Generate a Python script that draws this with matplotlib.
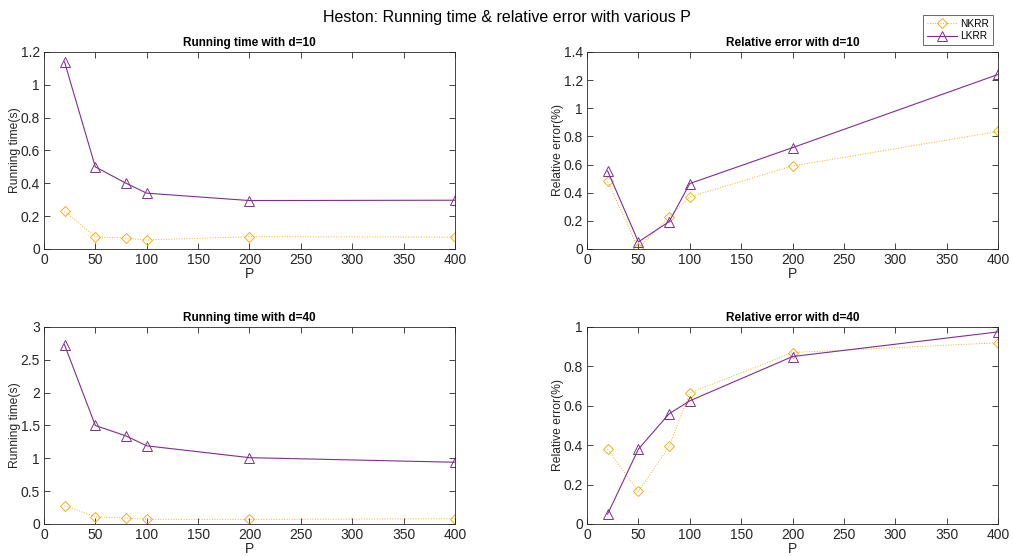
import numpy as np
import matplotlib.pyplot as plt

plt.rcParams['font.family'] = ['Liberation Sans', 'DejaVu Sans']

P = [20, 50, 80, 100, 200, 400]

time10_nkrr = [0.23, 0.075, 0.065, 0.055, 0.075, 0.072]
time10_lkrr = [1.14, 0.50, 0.40, 0.34, 0.295, 0.297]
err10_nkrr = [0.48, 0.005, 0.23, 0.37, 0.59, 0.835]
err10_lkrr = [0.555, 0.05, 0.195, 0.465, 0.72, 1.24]
time40_nkrr = [0.28, 0.11, 0.09, 0.07, 0.07, 0.08]
time40_lkrr = [2.73, 1.50, 1.34, 1.19, 1.01, 0.94]
err40_nkrr = [0.38, 0.165, 0.395, 0.665, 0.87, 0.92]
err40_lkrr = [0.05, 0.38, 0.56, 0.625, 0.85, 0.975]

yellow = '#EDB120'
purple = '#7E2F8E'
gray = '#262626'

fig = plt.figure(figsize=(10.13, 5.56), dpi=100)

panels = [
    ([0.0434, 0.5522, 0.4057, 0.3543], time10_nkrr, time10_lkrr, 'Running time with d=10', 'Running time(s)', (0, 1.2), np.arange(0, 1.21, 0.2)),
    ([0.5795, 0.5522, 0.4057, 0.3543], err10_nkrr, err10_lkrr, 'Relative error with d=10', 'Relative error(%)', (0, 1.4), np.arange(0, 1.41, 0.2)),
    ([0.0434, 0.0576, 0.4057, 0.3543], time40_nkrr, time40_lkrr, 'Running time with d=40', 'Running time(s)', (0, 3), np.arange(0, 3.01, 0.5)),
    ([0.5795, 0.0576, 0.4057, 0.3543], err40_nkrr, err40_lkrr, 'Relative error with d=40', 'Relative error(%)', (0, 1), np.arange(0, 1.01, 0.2)),
]

def fmt(v):
    return '%g' % round(v, 2)

handles = None
for rect, nk, lk, title, ylab, ylim, yt in panels:
    ax = fig.add_axes(rect)
    h1, = ax.plot(P, nk, linestyle=':', color=yellow, linewidth=0.7, marker='D',
                  markersize=5.5, markerfacecolor='none', markeredgecolor=yellow,
                  markeredgewidth=0.7, label='NKRR')
    h2, = ax.plot(P, lk, linestyle='-', color=purple, linewidth=0.8, marker='^',
                  markersize=6.5, markerfacecolor='none', markeredgecolor=purple,
                  markeredgewidth=0.7, label='LKRR')
    handles = [h1, h2]
    ax.set_xlim(0, 400)
    ax.set_ylim(*ylim)
    ax.set_xticks(np.arange(0, 401, 50))
    ax.set_yticks(yt)
    ax.set_yticklabels([fmt(v) for v in yt])
    ax.tick_params(direction='in', top=True, right=True, labelsize=10,
                   colors=gray, length=4, width=0.6, pad=3)
    for s in ax.spines.values():
        s.set_color(gray)
        s.set_linewidth(0.6)
    ax.set_title(title, fontsize=8.5, fontweight='bold', pad=4)
    ax.set_ylabel(ylab, fontsize=8.7, color=gray)
    ax.yaxis.set_label_coords(-0.056, 0.5)
    ax.set_xlabel('P', fontsize=10, color=gray, labelpad=0)

fig.suptitle('Heston: Running time & relative error with various P', fontsize=11.5, y=0.982)
leg = fig.legend(handles=handles, loc='upper right', bbox_to_anchor=(0.985, 0.982),
                 fontsize=7.3, frameon=True, fancybox=False, edgecolor=gray,
                 handlelength=3, borderpad=0.35, labelspacing=0.25, handletextpad=0.3)
leg.get_frame().set_linewidth(0.6)

fig.savefig('out.png', dpi=100)
